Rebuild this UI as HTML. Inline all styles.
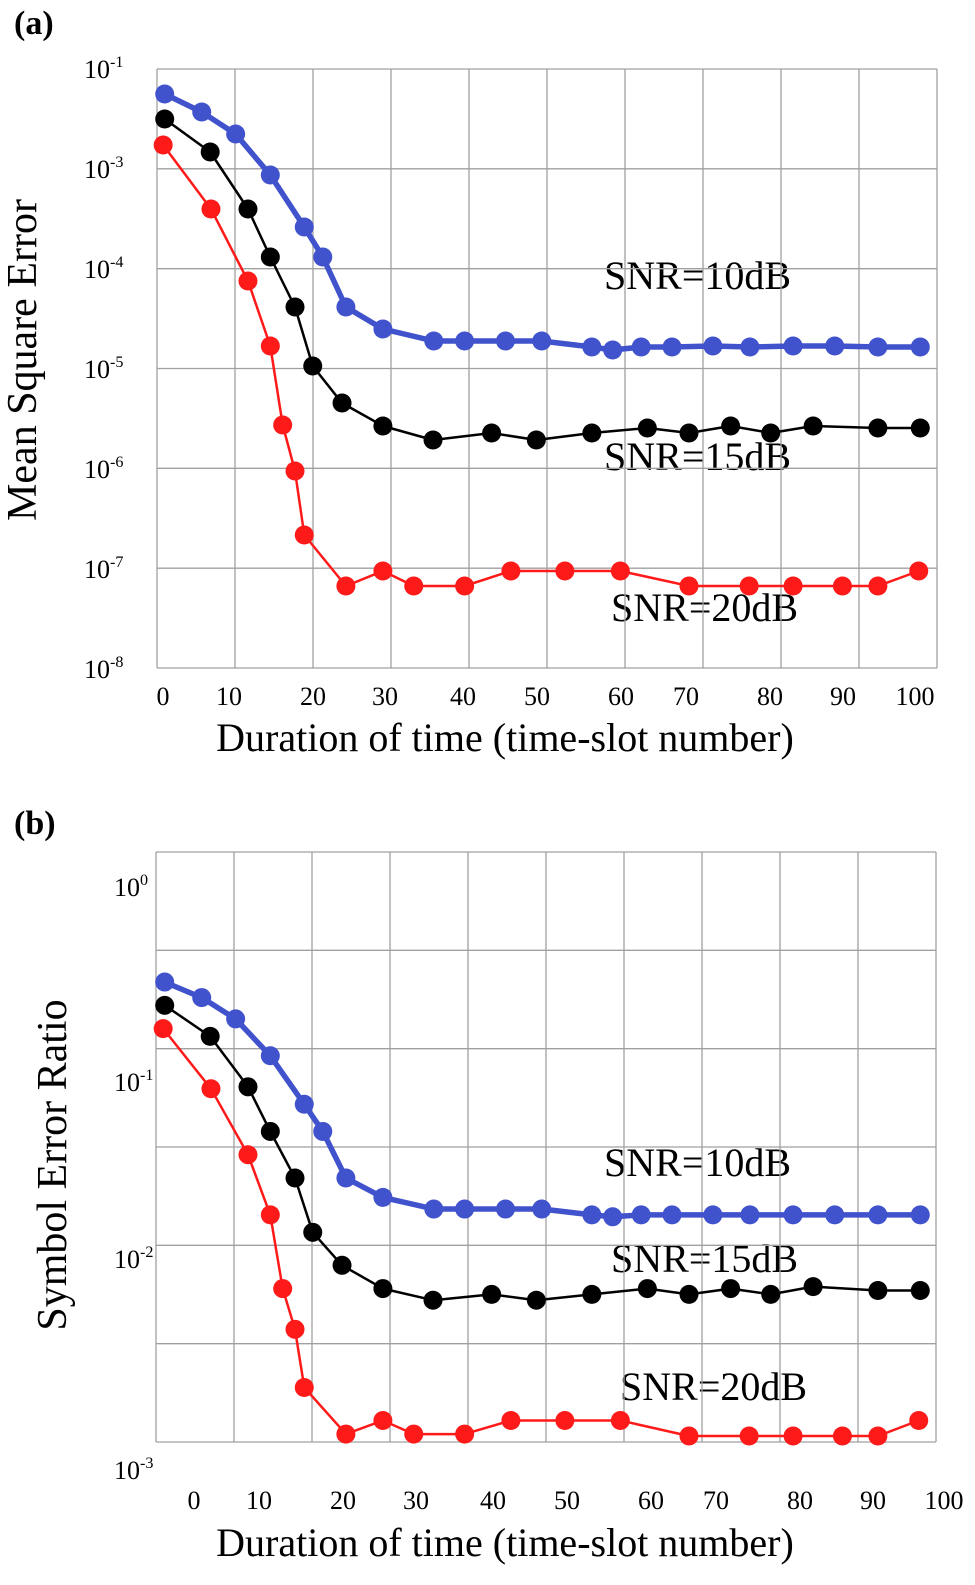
<!DOCTYPE html>
<html><head><meta charset="utf-8"><style>
html,body{margin:0;padding:0;background:#fff}
svg{display:block;font-family:"Liberation Serif",serif}
</style></head><body>
<svg id="chart" width="975" height="1585" viewBox="0 0 975 1585" xmlns="http://www.w3.org/2000/svg">
<text x="14" y="34" font-size="34" font-weight="bold">(a)</text>
<text x="14" y="834" font-size="34" font-weight="bold">(b)</text>
<text transform="translate(36,360) rotate(-90)" text-anchor="middle" font-size="42">Mean Square Error</text>
<text transform="translate(66,1165) rotate(-90)" text-anchor="middle" font-size="42">Symbol  Error Ratio</text>
<text x="505" y="751" text-anchor="middle" font-size="40">Duration of time (time-slot number)</text>
<text x="505" y="1556" text-anchor="middle" font-size="40">Duration of time (time-slot number)</text>
<text x="604" y="289" font-size="40">SNR=10dB</text>
<text x="604" y="470" font-size="40">SNR=15dB</text>
<text x="611" y="621" font-size="40">SNR=20dB</text>
<text x="604" y="1176" font-size="40">SNR=10dB</text>
<text x="611" y="1272" font-size="40">SNR=15dB</text>
<text x="620" y="1400" font-size="40">SNR=20dB</text>
<g id="pa"></g><g id="pb"></g>
</svg>
<script>
// shared x data (time-slot)
const xBlue = [1.0,5.8,10.2,14.7,19.1,21.5,24.5,29.3,35.9,39.9,45.2,49.9,56.4,59.1,62.8,66.8,72.1,76.9,82.5,87.9,93.5,99.0];
const xBlack = [1.0,6.9,11.8,14.7,17.9,20.2,24.0,29.3,35.8,43.4,49.2,56.4,63.6,69.0,74.4,79.6,85.1,93.5,99.0];
const xRed = [0.8,7.0,11.8,14.7,16.3,17.9,19.1,24.5,29.3,33.3,39.9,45.9,52.9,60.1,69.0,76.8,82.5,88.9,93.5,98.8];
// panel a: log10 of MSE (axis gridline units)
const mseBlue = [-1.25,-1.43,-1.65,-2.06,-2.58,-2.88,-3.38,-3.60,-3.72,-3.72,-3.72,-3.72,-3.78,-3.81,-3.78,-3.78,-3.77,-3.78,-3.77,-3.77,-3.78,-3.78];
const mseBlack = [-1.50,-1.83,-2.40,-2.88,-3.38,-3.97,-4.34,-4.57,-4.71,-4.64,-4.71,-4.64,-4.59,-4.64,-4.57,-4.64,-4.57,-4.59,-4.59];
const mseRed = [-1.76,-2.40,-3.12,-3.77,-4.56,-5.02,-5.66,-6.17,-6.02,-6.17,-6.17,-6.02,-6.02,-6.02,-6.17,-6.17,-6.17,-6.17,-6.17,-6.02];
// panel b: log10 of SER
const serBlue = [-0.49,-0.57,-0.68,-0.87,-1.12,-1.26,-1.50,-1.60,-1.66,-1.66,-1.66,-1.66,-1.69,-1.70,-1.69,-1.69,-1.69,-1.69,-1.69,-1.69,-1.69,-1.69];
const serBlack = [-0.61,-0.77,-1.03,-1.26,-1.50,-1.78,-1.95,-2.07,-2.13,-2.10,-2.13,-2.10,-2.07,-2.10,-2.07,-2.10,-2.06,-2.08,-2.08];
const serRed = [-0.73,-1.04,-1.38,-1.69,-2.07,-2.28,-2.58,-2.82,-2.75,-2.82,-2.82,-2.75,-2.75,-2.75,-2.83,-2.83,-2.83,-2.83,-2.83,-2.75];
const xTicks = ["0","10","20","30","40","50","60","70","80","90","100"];
const yTicksA = ["-1","-3","-4","-5","-6","-7","-8"];
const yTicksB = ["0","-1","-2","-3"];

const NS="http://www.w3.org/2000/svg";
function mk(p,tag,at){const e=document.createElementNS(NS,tag);for(const k in at)e.setAttribute(k,at[k]);p.appendChild(e);return e;}
const xs = v => 157 + v*7.71;
const yA = v => 69 + (-1 - v)*100;
const yB = v => 887 - v*194;

function grid(g,top,bot,left,right,nh,name){
  for(let i=0;i<=nh;i++){const y=top+(bot-top)*i/nh;const l=mk(g,'line',{x1:left,x2:right,y1:y,y2:y,stroke:'#a0a0a0','stroke-width':1.3});
    
    }
  for(let i=0;i<=10;i++){const x=left+(right-left)*i/10;const l=mk(g,'line',{x1:x,x2:x,y1:top,y2:bot,stroke:'#a0a0a0','stroke-width':1.3});
    
    }
}
function series(g,xv,yv,ys,color,w,name){
  const pts=xv.map((x,i)=>xs(x).toFixed(1)+','+ys(yv[i]).toFixed(1)).join(' ');
  const pl=mk(g,'polyline',{points:pts,fill:'none',stroke:color,'stroke-width':w,'stroke-linejoin':'round'});
  
  
  xv.forEach((x,i)=>{const c=mk(g,'circle',{cx:xs(x),cy:ys(yv[i]),r:9.5,fill:color});
    
    });
}
function sup(g,x,y,exp,size,name){
  const t=mk(g,'text',{x:x,y:y,'font-size':size});
  
  
  t.appendChild(document.createTextNode('10'));
  const s=mk(t,'tspan',{dy:-11,'font-size':size*0.62});s.textContent=exp;
}
// panel a
const ga=document.getElementById('pa');
grid(ga,69,668,157,937,6,'grid-a');
yTicksA.forEach((e,i)=>sup(ga,84,69+i*100+9,e,26,'y-tick-a'));
const xposA=[163,229,313,385,463,537,621,686,770,843,915];
xTicks.forEach((t,i)=>{const e=mk(ga,'text',{x:xposA[i],y:705,'font-size':26,'text-anchor':'middle'});e.textContent=t;
  
  });
series(ga,xRed,mseRed,yA,'#ff1a1a',2.5,'snr20-a');
series(ga,xBlack,mseBlack,yA,'#000',2.5,'snr15-a');
series(ga,xBlue,mseBlue,yA,'#4052cc',5.5,'snr10-a');
// panel b
const gb=document.getElementById('pb');
grid(gb,852,1442,156,936,6,'grid-b');
const yposB=[896,1091,1268,1479];
yTicksB.forEach((e,i)=>sup(gb,114,yposB[i],e,26,'y-tick-b'));
const xposB=[194,259,343,416,493,567,651,716,800,873,944];
xTicks.forEach((t,i)=>{const e=mk(gb,'text',{x:xposB[i],y:1509,'font-size':26,'text-anchor':'middle'});e.textContent=t;
  
  });
series(gb,xRed,serRed,yB,'#ff1a1a',2.5,'snr20-b');
series(gb,xBlack,serBlack,yB,'#000',2.5,'snr15-b');
series(gb,xBlue,serBlue,yB,'#4052cc',5.5,'snr10-b');
</script>
</body></html>
